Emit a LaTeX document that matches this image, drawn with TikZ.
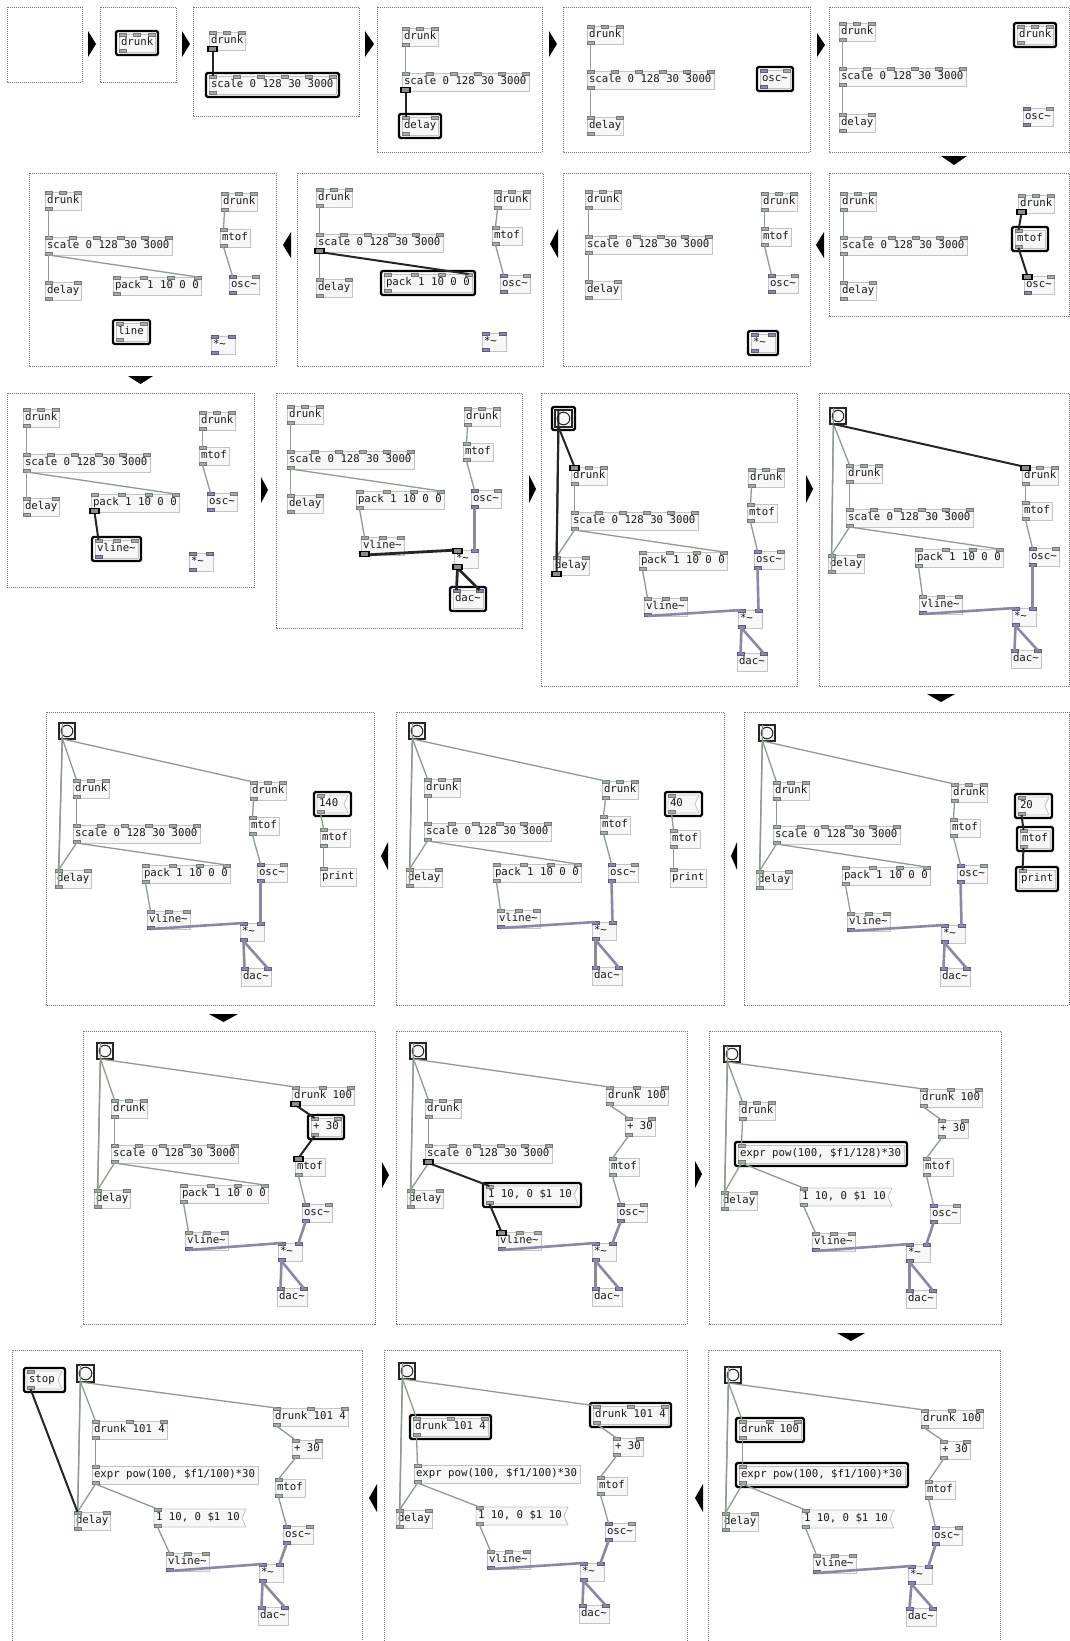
\documentclass[tikz,border=0pt]{standalone}
\usepackage{fontspec}
\newfontfamily\pdmonofam{DejaVu Sans Mono}
\newcommand\pdmono{\pdmonofam\fontsize{10.7}{12}\selectfont}
\definecolor{boxfill}{HTML}{F7F7F7}
\definecolor{boxedge}{HTML}{C4C4C4}
\definecolor{portc}{HTML}{A4AEA4}
\definecolor{portcd}{HTML}{6F7C6F}
\definecolor{ports}{HTML}{8C89A9}
\definecolor{portsd}{HTML}{5E5B7E}
\definecolor{ctlcol}{HTML}{8E9B8E}
\definecolor{sigcol}{HTML}{8A88A6}
\tikzset{
 pdbox/.style={draw=boxedge,fill=boxfill,line width=0.8pt,inner xsep=2pt,inner ysep=0pt,outer sep=0pt,minimum height=18pt,text height=7.6pt,text depth=2.2pt,font=\pdmono,text=black!90},
 pdtext/.style={inner xsep=2pt,inner ysep=0pt,outer sep=0pt,minimum height=18pt,text height=7.6pt,text depth=2.2pt,font=\pdmono,text=black!90},
 msgshape/.style={draw=boxedge,fill=boxfill,line width=0.8pt},
 cport/.style={fill=portc,draw=portcd,line width=0.5pt},
 sport/.style={fill=ports,draw=portsd,line width=0.5pt},
 hotport/.style={fill=black!45,draw=black,line width=1.3pt},
 pctl/.style={draw=ctlcol,line width=1.3pt},
 psig/.style={draw=sigcol,line width=2.6pt},
 phot/.style={draw=black!85,line width=2pt},
 sighot/.style={line width=2.8pt},
 selbox/.style={draw=black,line width=2.4pt,rounded corners=1.5pt},
 pframe/.style={draw=black!55,line width=0.8pt,dash pattern=on 1pt off 1pt},
 pdbangst/.style={draw=black!85,fill=boxfill,line width=1.2pt,inner sep=0pt,outer sep=0pt},
 bangc/.style={draw=black!85,line width=1pt},
}
\newcount\pdcnt
\newcommand\pdport[4][]{%
  \if i#4\relax\draw[#1] (#2,#3-0.5) rectangle (#2+7,#3+2.5);%
  \else\draw[#1] (#2,#3-2.5) rectangle (#2+7,#3+0.5);\fi}
\newcommand\pdports[6]{%
  \def\pdlist{#5}%
  \ifx\pdlist\empty\else
    \global\pdcnt=0\relax
    \foreach \pdt in {#5}{\global\advance\pdcnt by 1\relax}%
    \foreach \pdt [count=\pdk] in {#5}{%
      \ifnum\pdcnt>1\relax
        \pgfmathsetmacro\pdpx{#2+(#4-7)*(\pdk-1)/(\the\pdcnt-1)}%
      \else
        \pgfmathsetmacro\pdpx{#2}%
      \fi
      \pgfmathsetmacro\pdcx{\pdpx+3.5}%
      \coordinate (#1-#6\pdk) at (\pdcx,#3);%
      \if s\pdt\pdport[sport]{\pdpx}{#3}{#6}\else\pdport[cport]{\pdpx}{#3}{#6}\fi
    }%
  \fi}
\newcommand\pdobj[8][]{%
  \pgfmathsetmacro\pdtw{#5-4}%
  \node[pdbox,#1,anchor=north west] (#2) at (#3,#4) {\makebox[\pdtw pt][l]{#6}};%
  \pdports{#2}{#3}{#4}{#5}{#7}{i}%
  \pgfmathsetmacro\pdyb{#4+18}%
  \pdports{#2}{#3}{\pdyb}{#5}{#8}{o}%
}
\newcommand\pdmsg[6][]{%
  \pgfmathsetmacro\pdtw{#5-4}%
  \pgfmathsetmacro\pdxr{#3+#5}%
  \draw[msgshape] (#3,#4) -- (\pdxr+4,#4) -- (\pdxr,#4+9) -- (\pdxr+4,#4+18) -- (#3,#4+18) -- cycle;%
  \node[pdtext,#1,anchor=north west] (#2) at (#3,#4) {\makebox[\pdtw pt][l]{#6}};%
  \pdports{#2}{#3}{#4}{#5}{c}{i}%
  \pgfmathsetmacro\pdyb{#4+18}%
  \pdports{#2}{#3}{\pdyb}{#5}{c}{o}%
}
\newcommand\pdbang[5][]{%
  \node[pdbangst,#1,minimum size=#5pt,anchor=north west] (#2) at (#3,#4) {};%
  \pgfmathsetmacro\pdbr{#5/2-2.2}%
  \draw[bangc] (#2.center) circle (\pdbr pt);%
  \pgfmathsetmacro\pdcx{#3+3.5}%
  \pgfmathsetmacro\pdyb{#4+#5}%
  \coordinate (#2-i1) at (\pdcx,#4);%
  \coordinate (#2-o1) at (\pdcx,\pdyb);%
}
\newcommand\pdsel[2][0]{\draw[selbox] ([xshift=-3pt,yshift=3pt]#2.north west) rectangle ([xshift=3pt+#1pt,yshift=-3pt]#2.south east);}
\newcommand\pdhot[2]{%
  \if i#2\relax\draw[hotport] ([xshift=-4.5pt,yshift=1.5pt]#1) rectangle ([xshift=4.5pt,yshift=-3.5pt]#1);%
  \else\draw[hotport] ([xshift=-4.5pt,yshift=3.5pt]#1) rectangle ([xshift=4.5pt,yshift=-1.5pt]#1);\fi}
\newcommand\pcc[2]{\draw[pctl] (#1) -- (#2);}
\newcommand\psg[2]{\draw[psig] (#1) -- (#2);}
\newcommand\pht[3][]{\draw[phot,#1] (#2) -- (#3);}
\newcommand\oDrunk[4][]{\pdobj[#1]{#2}{#3}{#4}{36}{drunk}{c,c,c}{c}}
\newcommand\oDrunkH[4][]{\pdobj[#1]{#2}{#3}{#4}{62}{drunk 100}{c,c,c}{c}}
\newcommand\oDrunkF[4][]{\pdobj[#1]{#2}{#3}{#4}{75}{drunk 101 4}{c,c,c}{c}}
\newcommand\oScale[4][]{\pdobj[#1]{#2}{#3}{#4}{127}{scale 0 128 30 3000}{c,c,c,c,c,c}{c}}
\newcommand\oDelay[4][]{\pdobj[#1]{#2}{#3}{#4}{36}{delay}{c,c}{c}}
\newcommand\oPack[4][]{\pdobj[#1]{#2}{#3}{#4}{88}{pack 1 10 0 0}{c,c,c,c}{c}}
\newcommand\oMtof[4][]{\pdobj[#1]{#2}{#3}{#4}{30}{mtof}{c}{c}}
\newcommand\oOsc[4][]{\pdobj[#1]{#2}{#3}{#4}{30}{osc\textasciitilde}{s,c}{s}}
\newcommand\oMul[4][]{\pdobj[#1]{#2}{#3}{#4}{24}{*\textasciitilde}{s,s}{s}}
\newcommand\oDac[4][]{\pdobj[#1]{#2}{#3}{#4}{30}{dac\textasciitilde}{s,s}{}}
\newcommand\oVline[4][]{\pdobj[#1]{#2}{#3}{#4}{43}{vline\textasciitilde}{c,c,c}{s}}
\newcommand\oLine[4][]{\pdobj[#1]{#2}{#3}{#4}{31}{line}{c,c}{c}}
\newcommand\oPrint[4][]{\pdobj[#1]{#2}{#3}{#4}{36}{print}{c}{}}
\newcommand\oPlus[4][]{\pdobj[#1]{#2}{#3}{#4}{30}{+ 30}{c,c}{c}}
\newcommand\oExpr[5][]{\pdobj[#1]{#2}{#3}{#4}{166}{#5}{c}{c}}
\newcommand\bangpart[1]{\pcc{#1b-o1}{#1l-i1}\pcc{#1l-o1}{#1b-i1}\pcc{#1b-o1}{#1d-i1}\pcc{#1b-o1}{#1e-i1}}
\newcommand\basepart[1]{\pcc{#1d-o1}{#1s-i1}\pcc{#1s-o1}{#1l-i1}\pcc{#1s-o1}{#1k-i4}\pcc{#1k-o1}{#1v-i1}\pcc{#1e-o1}{#1m-i1}\pcc{#1m-o1}{#1o-i1}}
\newcommand\sigpart[1]{\psg{#1v-o1}{#1x-i1}\psg{#1o-o1}{#1x-i2}\psg{#1x-o1}{#1c-i1}\psg{#1x-o1}{#1c-i2}}
\newcommand\exprpart[1]{\pcc{#1d-o1}{#1s-i1}\pcc{#1s-o1}{#1l-i1}\pcc{#1s-o1}{#1g-i1}\pcc{#1g-o1}{#1v-i1}\pcc{#1e-o1}{#1p-i1}\pcc{#1p-o1}{#1m-i1}\pcc{#1m-o1}{#1o-i1}}
\begin{document}
\begin{tikzpicture}[x=1pt,y=-1pt]
\useasboundingbox (0,0) rectangle (1070,1641);
\fill[white] (0,0) rectangle (1070,1641);
% ===== Row 1 =====
\draw[pframe] (7,7) rectangle (82,82);
\fill (88,31) -- (96,44) -- (88,57) -- cycle;
\draw[pframe] (100,7) rectangle (176,82);
\oDrunk{p2d}{119}{34}
\pdsel{p2d}
\fill (182,31) -- (190,44) -- (182,57) -- cycle;
\draw[pframe] (193,7) rectangle (359,116);
\oDrunk{p3d}{209}{32}
\oScale{p3s}{209}{76}
\pht{p3d-o1}{p3s-i1}
\pdhot{p3d-o1}{o}
\pdsel{p3s}
\fill (365,31) -- (374,44) -- (365,57) -- cycle;
\draw[pframe] (377,7) rectangle (542,152);
\oDrunk{p4d}{402}{28}
\oScale{p4s}{402}{73}
\oDelay{p4l}{402}{117}
\pcc{p4d-o1}{p4s-i1}
\pht{p4s-o1}{p4l-i1}
\pdhot{p4s-o1}{o}
\pdsel{p4l}
\fill (549,31) -- (557,44) -- (549,57) -- cycle;
\draw[pframe] (563,7) rectangle (810,152);
\oDrunk{p5d}{587}{26}
\oScale{p5s}{587}{71}
\oDelay{p5l}{587}{117}
\oOsc{p5o}{760}{70}
\pdsel{p5o}
\pcc{p5d-o1}{p5s-i1}
\pcc{p5s-o1}{p5l-i1}
\fill (817,33) -- (825,45) -- (817,57) -- cycle;
\draw[pframe] (829,7) rectangle (1069,152);
\oDrunk{p6d}{839}{23}
\oScale{p6s}{839}{68}
\oDelay{p6l}{839}{114}
\oDrunk{p6e}{1017}{26}
\pdsel{p6e}
\oOsc{p6o}{1023}{108}
\pcc{p6d-o1}{p6s-i1}
\pcc{p6s-o1}{p6l-i1}
\fill (941,156) -- (967,156) -- (954,165) -- cycle;
% ===== Row 2 =====
\draw[pframe] (29,173) rectangle (276,366);
\oDrunk{p7d}{45}{192}
\oScale{p7s}{45}{237}
\oDelay{p7l}{45}{282}
\oPack{p7k}{113}{277}
\oDrunk{p7e}{221}{193}
\oMtof{p7m}{220}{229}
\oOsc{p7o}{229}{276}
\oLine{p7n}{116}{323}
\pdsel{p7n}
\oMul{p7x}{211}{336}
\pcc{p7d-o1}{p7s-i1}
\pcc{p7s-o1}{p7l-i1}
\pcc{p7s-o1}{p7k-i4}
\pcc{p7e-o1}{p7m-i1}
\pcc{p7m-o1}{p7o-i1}
\fill (291,232) -- (283,245) -- (291,258) -- cycle;
\draw[pframe] (297,173) rectangle (543,366);
\oDrunk{p8d}{316}{189}
\oScale{p8s}{316}{234}
\oDelay{p8l}{316}{279}
\oPack{p8k}{384}{274}
\pdsel{p8k}
\oDrunk{p8e}{494}{191}
\oMtof{p8m}{492}{227}
\oOsc{p8o}{500}{275}
\oMul{p8x}{482}{333}
\pcc{p8d-o1}{p8s-i1}
\pcc{p8s-o1}{p8l-i1}
\pht{p8s-o1}{p8k-i4}
\pdhot{p8s-o1}{o}
\pcc{p8e-o1}{p8m-i1}
\pcc{p8m-o1}{p8o-i1}
\fill (558,229) -- (550,244) -- (558,258) -- cycle;
\draw[pframe] (563,173) rectangle (810,366);
\oDrunk{p9d}{585}{191}
\oScale{p9s}{585}{236}
\oDelay{p9l}{585}{281}
\oDrunk{p9e}{761}{193}
\oMtof{p9m}{761}{228}
\oOsc{p9o}{768}{275}
\oMul{p9x}{751}{334}
\pdsel{p9x}
\pcc{p9d-o1}{p9s-i1}
\pcc{p9s-o1}{p9l-i1}
\pcc{p9e-o1}{p9m-i1}
\pcc{p9m-o1}{p9o-i1}
\fill (824,232) -- (816,245) -- (824,258) -- cycle;
\draw[pframe] (829,173) rectangle (1069,316);
\oDrunk{p10d}{840}{193}
\oScale{p10s}{840}{237}
\oDelay{p10l}{840}{282}
\oDrunk{p10e}{1018}{195}
\oMtof{p10m}{1015}{230}
\pdsel{p10m}
\oOsc{p10o}{1024}{276}
\pcc{p10d-o1}{p10s-i1}
\pcc{p10s-o1}{p10l-i1}
\pht{p10e-o1}{p10m-i1}
\pht{p10m-o1}{p10o-i1}
\pdhot{p10e-o1}{o}
\pdhot{p10o-i1}{i}
\fill (128,376) -- (153,376) -- (140.5,384) -- cycle;
% ===== Row 3 =====
\draw[pframe] (7,393) rectangle (254,587);
\oDrunk{p11d}{23}{409}
\oScale{p11s}{23}{454}
\oDelay{p11l}{23}{498}
\oPack{p11k}{91}{494}
\oDrunk{p11e}{199}{412}
\oMtof{p11m}{199}{447}
\oOsc{p11o}{207}{493}
\oVline{p11v}{95}{540}
\pdsel{p11v}
\oMul{p11x}{189}{553}
\pcc{p11d-o1}{p11s-i1}
\pcc{p11s-o1}{p11l-i1}
\pcc{p11s-o1}{p11k-i4}
\pcc{p11e-o1}{p11m-i1}
\pcc{p11m-o1}{p11o-i1}
\pht{p11k-o1}{p11v-i1}
\pdhot{p11k-o1}{o}
\fill (261,477) -- (268,490) -- (261,503) -- cycle;
\draw[pframe] (276,393) rectangle (522,628);
\oDrunk{p12d}{287}{406}
\oScale{p12s}{287}{451}
\oDelay{p12l}{287}{495}
\oPack{p12k}{356}{491}
\oDrunk{p12e}{464}{408}
\oMtof{p12m}{463}{443}
\oOsc{p12o}{471}{490}
\oVline{p12v}{361}{537}
\oMul{p12x}{454}{550}
\oDac{p12c}{453}{590}
\pdsel{p12c}
\basepart{p12}
\psg{p12o-o1}{p12x-i2}
\pht[sighot]{p12v-o1}{p12x-i1}
\pht[sighot]{p12x-o1}{p12c-i1}
\pht[sighot]{p12x-o1}{p12c-i2}
\pdhot{p12v-o1}{o}
\pdhot{p12x-i1}{i}
\pdhot{p12x-o1}{o}
\fill (529,475) -- (536,489) -- (529,503) -- cycle;
\draw[pframe] (541,393) rectangle (797,686);
\pdbang{p13b}{555}{410}{17}
\pdsel{p13b}
\oDrunk{p13d}{571}{467}
\oScale{p13s}{571}{512}
\oDelay{p13l}{553}{557}
\oPack{p13k}{639}{552}
\oVline{p13v}{644}{598}
\oDrunk{p13e}{748}{469}
\oMtof{p13m}{747}{504}
\oOsc{p13o}{754}{551}
\oMul{p13x}{738}{610}
\oDac{p13c}{737}{653}
\basepart{p13}
\sigpart{p13}
\pht{p13b-o1}{p13d-i1}
\pht{p13b-o1}{p13l-i1}
\pht{p13l-o1}{p13b-i1}
\pdhot{p13d-i1}{i}
\pdhot{p13l-o1}{o}
\fill (806,475) -- (813,489) -- (806,503) -- cycle;
\draw[pframe] (819,393) rectangle (1069,686);
\pdbang{p14b}{830}{408}{16}
\oDrunk{p14d}{846}{465}
\oScale{p14s}{846}{509}
\oDelay{p14l}{828}{555}
\oPack{p14k}{915}{549}
\oVline{p14v}{919}{596}
\oDrunk{p14e}{1022}{467}
\oMtof{p14m}{1022}{502}
\oOsc{p14o}{1029}{548}
\oMul{p14x}{1012}{608}
\oDac{p14c}{1011}{650}
\pcc{p14b-o1}{p14l-i1}
\pcc{p14l-o1}{p14b-i1}
\pcc{p14b-o1}{p14d-i1}
\basepart{p14}
\sigpart{p14}
\pht{p14b-o1}{p14e-i1}
\pdhot{p14e-i1}{i}
\fill (927,694) -- (955,694) -- (941,702) -- cycle;
% ===== Row 4 =====
\draw[pframe] (46,712) rectangle (374,1005);
\pdbang{p15b}{59}{723}{16}
\oDrunk{p15d}{73}{780}
\oScale{p15s}{73}{825}
\oDelay{p15l}{55}{870}
\oPack{p15k}{142}{865}
\oVline{p15v}{147}{911}
\oDrunk{p15e}{250}{782}
\oMtof{p15m}{249}{817}
\oOsc{p15o}{257}{864}
\oMul{p15x}{240}{923}
\oDac{p15c}{241}{968}
\pdmsg{p15g}{317}{795}{27}{140}
\pdsel[4]{p15g}
\oMtof{p15q}{320}{829}
\oPrint{p15r}{320}{868}
\bangpart{p15}
\basepart{p15}
\sigpart{p15}
\pcc{p15g-o1}{p15q-i1}
\pcc{p15q-o1}{p15r-i1}
\fill (388,842) -- (381,856) -- (388,870) -- cycle;
\draw[pframe] (396,712) rectangle (724,1005);
\pdbang{p16b}{409}{723}{16}
\oDrunk{p16d}{424}{779}
\oScale{p16s}{424}{823}
\oDelay{p16l}{406}{869}
\oPack{p16k}{493}{864}
\oVline{p16v}{497}{910}
\oDrunk{p16e}{602}{781}
\oMtof{p16m}{600}{816}
\oOsc{p16o}{608}{864}
\oMul{p16x}{592}{922}
\oDac{p16c}{592}{967}
\pdmsg{p16g}{668}{795}{27}{40}
\pdsel[4]{p16g}
\oMtof{p16q}{670}{830}
\oPrint{p16r}{670}{869}
\bangpart{p16}
\basepart{p16}
\sigpart{p16}
\pcc{p16g-o1}{p16q-i1}
\pcc{p16q-o1}{p16r-i1}
\fill (737,842) -- (731,856) -- (737,870) -- cycle;
\draw[pframe] (744,712) rectangle (1069,1005);
\pdbang{p17b}{759}{725}{16}
\oDrunk{p17d}{773}{782}
\oScale{p17s}{773}{826}
\oDelay{p17l}{756}{871}
\oPack{p17k}{842}{867}
\oVline{p17v}{847}{913}
\oDrunk{p17e}{951}{784}
\oMtof{p17m}{950}{819}
\oOsc{p17o}{957}{865}
\oMul{p17x}{941}{925}
\oDac{p17c}{940}{968}
\pdmsg{p17g}{1018}{797}{27}{20}
\oMtof{p17q}{1020}{830}
\oPrint{p17r}{1019}{870}
\pdsel[4]{p17g}
\pdsel{p17q}
\pdsel{p17r}
\bangpart{p17}
\basepart{p17}
\sigpart{p17}
\pht{p17g-o1}{p17q-i1}
\pht{p17q-o1}{p17r-i1}
\fill (209,1014) -- (238,1014) -- (223.5,1022) -- cycle;
% ===== Row 5 =====
\draw[pframe] (83,1031) rectangle (375,1324);
\pdbang{p18b}{97}{1043}{16}
\oDrunk{p18d}{111}{1100}
\oScale{p18s}{111}{1145}
\oDelay{p18l}{94}{1190}
\oPack{p18k}{180}{1185}
\oVline{p18v}{185}{1232}
\oDrunkH{p18e}{292}{1087}
\oPlus{p18p}{311}{1118}
\pdsel{p18p}
\oMtof{p18m}{295}{1158}
\oOsc{p18o}{302}{1204}
\oMul{p18x}{278}{1243}
\oDac{p18c}{277}{1288}
\bangpart{p18}
\pcc{p18d-o1}{p18s-i1}
\pcc{p18s-o1}{p18l-i1}
\pcc{p18s-o1}{p18k-i4}
\pcc{p18k-o1}{p18v-i1}
\pcc{p18m-o1}{p18o-i1}
\pht{p18e-o1}{p18p-i1}
\pht{p18p-o1}{p18m-i1}
\pdhot{p18e-o1}{o}
\pdhot{p18m-i1}{i}
\sigpart{p18}
\fill (382,1162) -- (389,1175) -- (382,1188) -- cycle;
\draw[pframe] (396,1031) rectangle (687,1324);
\pdbang{p19b}{410}{1043}{16}
\oDrunk{p19d}{425}{1100}
\oScale{p19s}{425}{1145}
\oDelay{p19l}{407}{1190}
\pdmsg{p19g}{486}{1186}{88}{1 10, 0 \$1 10}
\pdsel[4]{p19g}
\oVline{p19v}{498}{1232}
\oDrunkH{p19e}{606}{1087}
\oPlus{p19p}{625}{1118}
\oMtof{p19m}{609}{1158}
\oOsc{p19o}{617}{1204}
\oMul{p19x}{592}{1243}
\oDac{p19c}{592}{1288}
\bangpart{p19}
\pcc{p19d-o1}{p19s-i1}
\pcc{p19s-o1}{p19l-i1}
\pcc{p19e-o1}{p19p-i1}
\pcc{p19p-o1}{p19m-i1}
\pcc{p19m-o1}{p19o-i1}
\pht{p19s-o1}{p19g-i1}
\pht{p19g-o1}{p19v-i1}
\pdhot{p19s-o1}{o}
\pdhot{p19v-i1}{i}
\sigpart{p19}
\fill (695,1161) -- (702,1174) -- (695,1188) -- cycle;
\draw[pframe] (709,1031) rectangle (1001,1324);
\pdbang{p20b}{724}{1046}{16}
\oDrunk{p20d}{739}{1102}
\oExpr{p20s}{738}{1145}{expr pow(100, \$f1/128)*30}
\pdsel{p20s}
\oDelay{p20l}{721}{1192}
\pdmsg{p20g}{800}{1188}{88}{1 10, 0 \$1 10}
\oVline{p20v}{812}{1233}
\oDrunkH{p20e}{920}{1089}
\oPlus{p20p}{938}{1120}
\oMtof{p20m}{923}{1158}
\oOsc{p20o}{930}{1205}
\oMul{p20x}{906}{1244}
\oDac{p20c}{906}{1290}
\bangpart{p20}
\exprpart{p20}
\sigpart{p20}
\fill (837,1333) -- (865,1333) -- (851,1341) -- cycle;
% ===== Row 6 =====
\draw[pframe] (12,1645) -- (12,1350) -- (362,1350) -- (362,1645);
\pdmsg{p21t}{27}{1371}{31}{stop}
\pdsel[4]{p21t}
\pdbang{p21b}{77}{1365}{17}
\oDrunkF{p21d}{92}{1421}
\oExpr{p21s}{92}{1466}{expr pow(100, \$f1/100)*30}
\oDelay{p21l}{74}{1512}
\pdmsg{p21g}{154}{1509}{88}{1 10, 0 \$1 10}
\oVline{p21v}{166}{1553}
\oDrunkF{p21e}{273}{1408}
\oPlus{p21p}{292}{1440}
\oMtof{p21m}{275}{1479}
\oOsc{p21o}{283}{1526}
\oMul{p21x}{259}{1564}
\oDac{p21c}{258}{1607}
\bangpart{p21}
\exprpart{p21}
\sigpart{p21}
\pht{p21t-o1}{p21l-i1}
\fill (377,1484) -- (369,1498) -- (377,1512) -- cycle;
\draw[pframe] (384,1645) -- (384,1350) -- (687,1350) -- (687,1645);
\pdbang{p22b}{399}{1363}{16}
\oDrunkF{p22d}{413}{1418}
\pdsel{p22d}
\oExpr{p22s}{414}{1465}{expr pow(100, \$f1/100)*30}
\oDelay{p22l}{396}{1510}
\pdmsg{p22g}{476}{1507}{88}{1 10, 0 \$1 10}
\oVline{p22v}{487}{1551}
\oDrunkF{p22e}{593}{1406}
\pdsel{p22e}
\oPlus{p22p}{613}{1438}
\oMtof{p22m}{597}{1477}
\oOsc{p22o}{605}{1523}
\oMul{p22x}{580}{1563}
\oDac{p22c}{579}{1605}
\bangpart{p22}
\exprpart{p22}
\sigpart{p22}
\fill (703,1484) -- (695,1498) -- (703,1512) -- cycle;
\draw[pframe] (708,1645) -- (708,1350) -- (1000,1350) -- (1000,1645);
\pdbang{p23b}{725}{1367}{16}
\oDrunkH{p23d}{739}{1421}
\pdsel{p23d}
\oExpr{p23s}{739}{1466}{expr pow(100, \$f1/100)*30}
\pdsel{p23s}
\oDelay{p23l}{722}{1513}
\pdmsg{p23g}{802}{1510}{88}{1 10, 0 \$1 10}
\oVline{p23v}{813}{1555}
\oDrunkH{p23e}{921}{1410}
\oPlus{p23p}{940}{1441}
\oMtof{p23m}{925}{1481}
\oOsc{p23o}{932}{1527}
\oMul{p23x}{908}{1566}
\oDac{p23c}{906}{1608}
\bangpart{p23}
\exprpart{p23}
\sigpart{p23}
\end{tikzpicture}
\end{document}
